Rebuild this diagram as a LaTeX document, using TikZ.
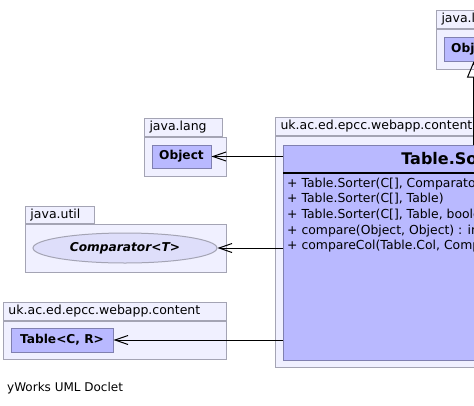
\documentclass[tikz,border=0pt]{standalone}
\usepackage{fontspec}
\setmainfont{DejaVu Sans}
\usetikzlibrary{arrows.meta,shapes.geometric}
\definecolor{pkgfill}{RGB}{240,240,255}
\definecolor{pkgline}{RGB}{164,164,180}
\definecolor{classfill}{RGB}{185,185,255}
\definecolor{classline}{RGB}{128,128,176}
\definecolor{ifacefill}{RGB}{222,222,250}
\begin{document}
\begin{tikzpicture}[
    x=1pt, y=-1pt,
    every node/.style={inner sep=0pt, font=\fontsize{12}{14}\selectfont},
    pkgbody/.style={draw=pkgline, fill=pkgfill, line width=1pt, anchor=north west},
    pkgtab/.style={draw=pkgline, fill=pkgfill, line width=1pt, anchor=south west, minimum height=18pt, inner xsep=5pt, align=left, font=\fontsize{12.5}{14}\selectfont},
    classbox/.style={draw=classline, fill=classfill, line width=1pt, font=\bfseries\fontsize{12.2}{14}\selectfont},
    iface/.style={ellipse, draw=pkgline, fill=ifacefill, line width=1pt, font=\bfseries\itshape\fontsize{12.2}{14}\selectfont},
    methods/.style={anchor=north west, align=left, font=\fontsize{12.4}{15.7}\selectfont},
    uses/.style={draw, line width=1pt, -{Straight Barb[length=13pt, width=9pt]}},
    extends/.style={draw, line width=1pt, -{Triangle[open, length=16pt, width=13pt]}},
]
    \useasboundingbox (0,0) rectangle (474,405);
    \clip (0,0) rectangle (474,405);

    % java.lang (top right)
    \node[pkgbody, minimum width=82pt, minimum height=40pt] (toplangbody) at (436,29) {};
    \node[pkgtab, minimum width=78pt, text width=68pt] (toplangtab) at (toplangbody.north west) {java.lang};
    \node[classbox, minimum width=59pt, minimum height=24pt] (topobject) at (473.5,49) {Object};

    % uk.ac.ed.epcc.webapp.content (main class)
    \node[pkgbody, minimum width=300pt, minimum height=231pt] (mainbody) at (275,136) {};
    \node[pkgtab, minimum width=223pt, text width=213pt] (maintab) at (mainbody.north west) {uk.ac.ed.epcc.webapp.content};
    \node[classbox, anchor=north west, minimum width=346pt, minimum height=27pt, font=\bfseries\fontsize{16}{18}\selectfont] (sorterhead) at (283,145) {Table.Sorter};
    \node[classbox, anchor=north west, minimum width=346pt, minimum height=187pt] (sorterbody) at (sorterhead.south west) {};
    \draw[line width=2pt] (sorterhead.south west) -- (sorterhead.south east);
    \node[methods] (sortermethods) at ([xshift=4pt, yshift=-4.5pt]sorterbody.north west)
        {+ Table.Sorter(C[], Comparator<C>)\\
         + Table.Sorter(C[], Table)\\
         + Table.Sorter(C[], Table, boolean)\\
         + compare(Object, Object) : int\\
         + compareCol(Table.Col, Comparator, Object, Object) : int};

    % java.lang
    \node[pkgbody, minimum width=82pt, minimum height=39pt] (langbody) at (144,137) {};
    \node[pkgtab, minimum width=78pt, text width=68pt] (langtab) at (langbody.north west) {java.lang};
    \node[classbox, minimum width=59pt, minimum height=23pt] (object) at (181.5,156.5) {Object};

    % java.util
    \node[pkgbody, minimum width=201pt, minimum height=48pt] (utilbody) at (25,224) {};
    \node[pkgtab, minimum width=69pt, text width=59pt, minimum height=17pt] (utiltab) at (utilbody.north west) {java.util};
    \node[iface, minimum width=184pt, minimum height=30pt] (comparator) at (125,248) {Comparator<T>};

    % uk.ac.ed.epcc.webapp.content (bottom left)
    \node[pkgbody, minimum width=223pt, minimum height=38pt] (contentbody) at (3,321) {};
    \node[pkgtab, minimum width=223pt, text width=213pt] (contenttab) at (contentbody.north west) {uk.ac.ed.epcc.webapp.content};
    \node[classbox, minimum width=102pt, minimum height=24pt] (table) at (62,340) {Table<C, R>};

    % connectors
    \draw[extends] (topobject.south |- sorterhead.north) -- (topobject.south);
    \draw[uses] (object.east -| sorterhead.west) -- (object.east);
    \draw[uses] (comparator.east -| sorterbody.west) -- (comparator.east);
    \draw[uses] (table.east -| sorterbody.west) -- (table.east);

    \node[anchor=west] (doclet) at (7,388) {yWorks UML Doclet};
\end{tikzpicture}
\end{document}
